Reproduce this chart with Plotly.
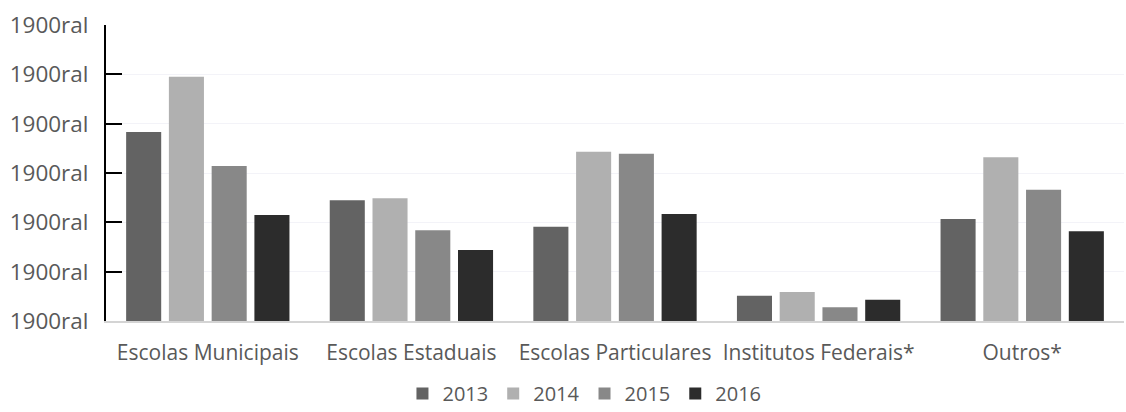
import plotly.graph_objects as go

categories = ["Escolas Municipais", "Escolas Estaduais", "Escolas Particulares", "Institutos Federais*", "Outros*"]
years = ["2013", "2014", "2015", "2016"]
v2013 = [3.83, 2.45, 1.91, 0.51, 2.07]
v2014 = [4.95, 2.49, 3.43, 0.59, 3.32]
v2015 = [3.14, 1.84, 3.39, 0.28, 2.66]
v2016 = [2.15, 1.44, 2.17, 0.43, 1.82]
tick_vals = [0, 1, 2, 3, 4, 5, 6]
tick_text = ["1900ral"] * 7

series = [v2013, v2014, v2015, v2016]
colors = ["#636363", "#b0b0b0", "#888888", "#2c2c2c"]

fig = go.Figure()
for name, vals, c in zip(years, series, colors):
    fig.add_trace(go.Bar(x=categories, y=vals, name=name,
                         marker=dict(color=c, line=dict(width=0))))

fig.update_layout(
    width=1126, height=412,
    margin=dict(l=106, r=2, t=25, b=91, autoexpand=False),
    paper_bgcolor="white", plot_bgcolor="white",
    barmode="group", bargap=0.16, bargroupgap=0.18,
    font=dict(family="Open Sans, Liberation Sans, sans-serif", size=20, color="#595959"),
    showlegend=True,
    legend=dict(orientation="h", x=0.47, xanchor="center",
                yref="container", y=0.045, yanchor="middle",
                font=dict(size=20, color="#595959"), itemwidth=30, traceorder="normal"),
)
fig.update_yaxes(range=[0, 6], tickvals=tick_vals, ticktext=tick_text,
                 tickfont=dict(size=22.5), ticklabelstandoff=11, automargin=False,
                 showline=True, linecolor="black", linewidth=2,
                 ticks="inside", ticklen=16, tickcolor="black", tickwidth=2,
                 showgrid=True, gridcolor="#f3f3f8", gridwidth=1,
                 zeroline=False, fixedrange=True)
fig.update_xaxes(showline=True, linecolor="#d4d4d4", linewidth=2, automargin=False,
                 ticks="", ticklabelstandoff=12, showgrid=False,
                 tickfont=dict(size=21))

fig.write_html("out.html")
